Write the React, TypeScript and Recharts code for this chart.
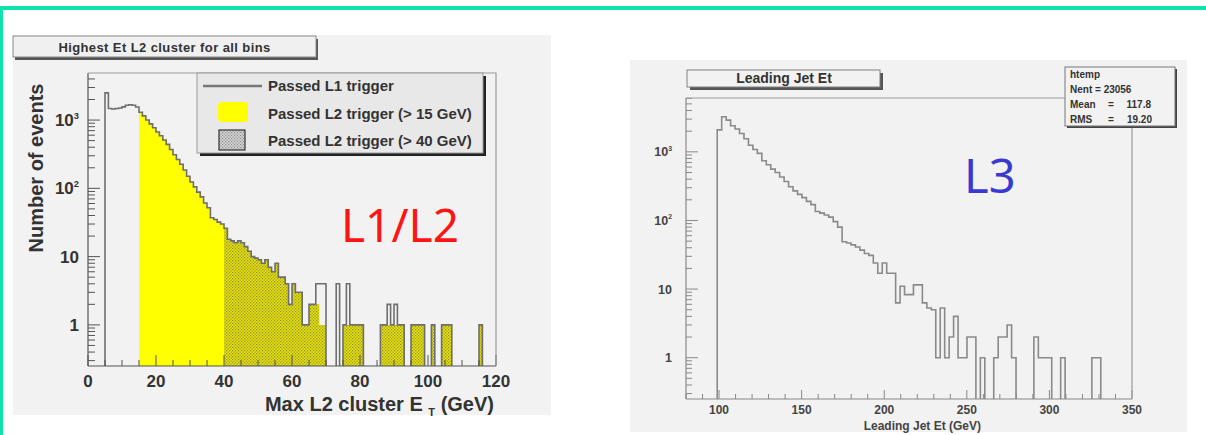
import React from 'react';
import { ComposedChart, Area, XAxis, YAxis } from 'recharts';

const FLOOR = 0.05;
const FONT = '"Liberation Sans", Arial, Helvetica, sans-serif';

// ---------- Left panel: Highest Et L2 cluster (1 GeV bins, 0-120 GeV)
const leftBinStart = 0;
const leftBinWidth = 1;
const leftL1Counts = [
  0, 0, 0, 0, 0, 2500, 1480, 1450, 1480, 1500,
  1560, 1650, 1680, 1650, 1550, 1300, 1150, 1000, 880, 770,
  670, 590, 510, 440, 370, 310, 265, 225, 186, 150,
  124, 105, 88, 75, 61, 52, 37, 35, 32, 30,
  26, 18, 17, 16, 17, 16, 14, 12, 10, 9.5,
  9, 8, 9, 7, 6, 8, 5, 5, 4, 2,
  4, 3, 3, 1, 1, 2, 2, 4, 4, 4,
  0, 0, 0, 4, 0, 1, 4, 1, 1, 1,
  1, 0, 0, 0, 0, 0, 1, 1, 2, 1,
  2, 1, 1, 0, 0, 1, 1, 1, 1, 0,
  0, 1, 0, 0, 1, 1, 1, 0, 0, 0,
  0, 0, 0, 0, 0, 1, 0, 0, 0, 0,
];
const leftL2StartBin = 15;
const leftL2Counts = [
  1300, 1150, 1000, 880, 770, 670, 590, 510, 440, 370,
  310, 265, 225, 186, 150, 124, 105, 88, 75, 61,
  52, 37, 35, 32, 30, 26, 18, 17, 16, 17,
  16, 14, 12, 10, 9.5, 9, 8, 9, 7, 6,
  8, 5, 5, 4, 2, 4, 3, 3, 1, 1,
  2, 2, 2, 1, 1, 0, 0, 0, 0, 0,
  1, 1, 1, 1, 1, 1, 0, 0, 0, 0,
  0, 1, 1, 1, 1, 1, 1, 1, 0, 0,
  1, 1, 1, 1, 0, 0, 1, 0, 0, 1,
  1, 1, 0, 0, 0, 0, 0, 0, 0, 0,
  1, 0, 0, 0, 0,
];
const leftHighStartBin = 40;
const leftHighCounts = [
  26, 18, 17, 16, 17, 16, 14, 12, 10, 9.5,
  9, 8, 9, 7, 6, 8, 5, 5, 4, 2,
  4, 3, 3, 1, 1, 2, 2, 2, 1, 1,
  0, 0, 0, 0, 0, 1, 1, 1, 1, 1,
  1, 0, 0, 0, 0, 0, 1, 1, 1, 1,
  1, 1, 1, 0, 0, 1, 1, 1, 1, 0,
  0, 1, 0, 0, 1, 1, 1, 0, 0, 0,
  0, 0, 0, 0, 0, 1, 0, 0, 0, 0,
];
const leftXTicks = [0, 5, 10, 15, 20, 25, 30, 35, 40, 45, 50, 55, 60, 65, 70, 75, 80, 85, 90, 95, 100, 105, 110, 115, 120];
const leftYTicks = [0.3, 0.4, 0.5, 0.6, 0.7, 0.8, 0.9, 1, 2, 3, 4, 5, 6, 7, 8, 9, 10, 20, 30, 40, 50, 60, 70, 80, 90, 100, 200, 300, 400, 500, 600, 700, 800, 900, 1000, 2000, 3000, 4000];
const leftLegendLabels = ['Passed L1 trigger', 'Passed L2 trigger (> 15 GeV)', 'Passed L2 trigger (> 40 GeV)'];

// ---------- Right panel: Leading Jet Et (2.7 GeV bins, 80-350 GeV)
const rightBinStart = 80;
const rightBinWidth = 2.7;
const rightCounts = [
  0, 0, 0, 0, 0, 0, 0,
  2090, 3240, 2900, 2400, 2150, 1850, 1550, 1250, 1080, 950,
  740, 650, 560, 500, 430, 370, 310, 270, 240, 215,
  190, 170, 135, 128, 120, 112, 96, 80, 49, 47,
  44, 41, 37, 33, 31, 24, 17, 24, 17, 17,
  6.3, 11, 8.3, 8.3, 11.5, 11.5, 6.3, 5.3, 5, 1,
  5.3, 1, 2, 4, 1, 1, 2, 2, 0, 1,
  0, 0, 1, 2, 2, 3, 1, 0, 0, 0,
  0, 2, 1, 1, 1, 0, 0, 1, 0, 0,
  0, 0, 0, 0, 1, 1, 0, 0, 0, 0,
  0, 0, 0,
];
const rightXTicks = [80, 90, 100, 110, 120, 130, 140, 150, 160, 170, 180, 190, 200, 210, 220, 230, 240, 250, 260, 270, 280, 290, 300, 310, 320, 330, 340, 350];
const rightYTicks = [0.3, 0.4, 0.5, 0.6, 0.7, 0.8, 0.9, 1, 2, 3, 4, 5, 6, 7, 8, 9, 10, 20, 30, 40, 50, 60, 70, 80, 90, 100, 200, 300, 400, 500, 600, 700, 800, 900, 1000, 2000, 3000, 4000, 5000, 6000];
const statsName = 'htemp';
const statsEntries = 23056;
const statsMean = '117.8';
const statsRms = '19.20';

// ---------- tables for the library
const pick = (arr: number[], startBin: number, bin: number) => {
  const j = bin - startBin;
  if (j < 0 || j >= arr.length) return FLOOR;
  return arr[j] > 0 ? arr[j] : FLOOR;
};

const leftRows = Array.from({ length: leftL1Counts.length + 1 }, (_, i) => {
  const b = Math.min(i, leftL1Counts.length - 1);
  return {
    x: leftBinStart + i * leftBinWidth,
    l1: pick(leftL1Counts, 0, b),
    l2: pick(leftL2Counts, leftL2StartBin, b),
    hi: pick(leftHighCounts, leftHighStartBin, b),
  };
});

const rightRows = Array.from({ length: rightCounts.length + 1 }, (_, i) => {
  const b = Math.min(i, rightCounts.length - 1);
  return { x: rightBinStart + i * rightBinWidth, v: pick(rightCounts, 0, b) };
});

// ---------- tick renderers
const isDecade = (v: number) => {
  const l = Math.log10(v);
  return Math.abs(l - Math.round(l)) < 1e-6;
};

const logLabel = (v: number, size: number) => {
  const e = Math.round(Math.log10(v));
  if (e === 0) return '1';
  if (e === 1) return '10';
  return [
    <tspan key="b">10</tspan>,
    <tspan key="e" dy={-size * 0.45} fontSize={size * 0.55}>{String(e)}</tspan>,
  ];
};

type TickCfg = { major: number; minor: number; size: number; gap: number; stroke: string; weight: string; color: string };

const makeYTick = (cfg: TickCfg) => (props: any) => {
  const { x, y, payload } = props;
  const v = payload.value as number;
  const dec = isDecade(v);
  return (
    <g>
      <line x1={x} y1={y} x2={x + (dec ? cfg.major : cfg.minor)} y2={y} stroke={cfg.stroke} strokeWidth={1} />
      {dec && (
        <text x={x - cfg.gap} y={y + cfg.size * 0.36} textAnchor="end" fontSize={cfg.size} fontWeight={cfg.weight} fill={cfg.color} fontFamily={FONT}>
          {logLabel(v, cfg.size)}
        </text>
      )}
    </g>
  );
};

const makeXTick = (cfg: TickCfg, majorEvery: number) => (props: any) => {
  const { x, y, payload } = props;
  const v = payload.value as number;
  const major = Math.abs(v % majorEvery) < 1e-6;
  return (
    <g>
      <line x1={x} y1={y} x2={x} y2={y - (major ? cfg.major : cfg.minor)} stroke={cfg.stroke} strokeWidth={1} />
      {major && (
        <text x={x} y={y + cfg.gap} textAnchor="middle" fontSize={cfg.size} fontWeight={cfg.weight} fill={cfg.color} fontFamily={FONT}>
          {String(v)}
        </text>
      )}
    </g>
  );
};

const leftTickCfg: TickCfg = { major: 12, minor: 7, size: 17, gap: 9, stroke: '#555', weight: 'bold', color: '#333' };
const leftXCfg: TickCfg = { major: 11, minor: 6, size: 17, gap: 21, stroke: '#555', weight: 'bold', color: '#333' };
const rightYCfg: TickCfg = { major: 12, minor: 6, size: 12.5, gap: 14, stroke: '#888', weight: 'bold', color: '#444' };
const rightXCfg: TickCfg = { major: 9, minor: 5, size: 12, gap: 15, stroke: '#888', weight: 'bold', color: '#444' };

const leftYTick = makeYTick(leftTickCfg);
const leftXTick = makeXTick(leftXCfg, 20);
const rightYTick = makeYTick(rightYCfg);
const rightXTick = makeXTick(rightXCfg, 50);

export default function App() {
  return (
    <div style={{ position: 'absolute', left: 0, top: 0, width: 1206, height: 435, background: '#ffffff', overflow: 'hidden' }}>
      {/* page frame */}
      <div style={{ position: 'absolute', left: 0, top: 6, width: 1206, height: 3.5, background: '#0ee3ad' }} />
      <div style={{ position: 'absolute', left: 0, top: 6, width: 2.5, height: 429, background: '#0ee3ad' }} />

      {/* panel backgrounds */}
      <div style={{ position: 'absolute', left: 13, top: 35, width: 538, height: 380, background: '#f2f2f2' }} />
      <div style={{ position: 'absolute', left: 630, top: 60, width: 557, height: 372, background: '#f2f2f2' }} />

      {/* left chart */}
      <div style={{ position: 'absolute', left: 13, top: 35 }}>
        <ComposedChart width={538} height={380} data={leftRows} margin={{ top: 38, right: 55, bottom: 0, left: 0 }}>
          <defs>
            <pattern id="hatchL2" width="3" height="3" patternUnits="userSpaceOnUse">
              <rect width="3" height="3" fill="#e9e400" />
              <rect x="0" y="0" width="1.2" height="1.2" fill="#8c8a3c" />
              <rect x="1.5" y="1.5" width="1.2" height="1.2" fill="#8c8a3c" />
            </pattern>
          </defs>
          <XAxis
            type="number"
            dataKey="x"
            domain={[0, 120]}
            ticks={leftXTicks}
            interval={0}
            tickSize={0}
            tickMargin={0}
            tickLine={false}
            tick={leftXTick}
            height={49}
            allowDataOverflow
            axisLine={{ stroke: '#555', strokeWidth: 1.2 }}
          />
          <YAxis
            type="number"
            scale="log"
            domain={[0.25, 4890]}
            ticks={leftYTicks}
            interval={0}
            tickSize={0}
            tickMargin={0}
            tickLine={false}
            tick={leftYTick}
            width={75}
            allowDataOverflow
            axisLine={{ stroke: '#555', strokeWidth: 1.2 }}
          />
          <Area type="stepAfter" dataKey="l2" stroke="none" fill="#ffff00" fillOpacity={1} isAnimationActive={false} />
          <Area type="stepAfter" dataKey="hi" stroke="none" fill="url(#hatchL2)" fillOpacity={1} isAnimationActive={false} />
          <Area type="stepAfter" dataKey="l1" stroke="#6e6e6e" strokeWidth={1.6} fill="none" isAnimationActive={false} />
        </ComposedChart>
      </div>

      {/* right chart */}
      <div style={{ position: 'absolute', left: 630, top: 60 }}>
        <ComposedChart width={557} height={367} data={rightRows} margin={{ top: 38, right: 55, bottom: 0, left: 0 }}>
          <XAxis
            type="number"
            dataKey="x"
            domain={[80, 350]}
            ticks={rightXTicks}
            interval={0}
            tickSize={0}
            tickMargin={0}
            tickLine={false}
            tick={rightXTick}
            height={28}
            allowDataOverflow
            axisLine={{ stroke: '#888', strokeWidth: 1.2 }}
          />
          <YAxis
            type="number"
            scale="log"
            domain={[0.25, 6090]}
            ticks={rightYTicks}
            interval={0}
            tickSize={0}
            tickMargin={0}
            tickLine={false}
            tick={rightYTick}
            width={56}
            allowDataOverflow
            axisLine={{ stroke: '#888', strokeWidth: 1.2 }}
          />
          <Area type="stepAfter" dataKey="v" stroke="#8a8a8a" strokeWidth={1.6} fill="none" isAnimationActive={false} />
        </ComposedChart>
      </div>

      {/* overlay: frames, titles, legend, stats, annotations */}
      <svg width={1206} height={435} style={{ position: 'absolute', left: 0, top: 0, pointerEvents: 'none' }}>
        <defs>
          <pattern id="hatchLegend" width="3" height="3" patternUnits="userSpaceOnUse">
            <rect width="3" height="3" fill="#d6d6d6" />
            <rect x="0" y="0" width="1.2" height="1.2" fill="#8a8a8a" />
            <rect x="1.5" y="1.5" width="1.2" height="1.2" fill="#8a8a8a" />
          </pattern>
        </defs>

        {/* plot frames (top/right) */}
        <polyline points="88,73 496,73 496,366" fill="none" stroke="#9a9a9a" strokeWidth={1.2} />
        <polyline points="686,98 1132,98 1132,399" fill="none" stroke="#9a9a9a" strokeWidth={1.2} />

        {/* left title */}
        <rect x={15} y={39} width={303} height={21} fill="#555" />
        <rect x={13} y={36} width={303} height={21} fill="#f0f0f0" stroke="#8a8a8a" strokeWidth={1} />
        <text x={164.5} y={52} textAnchor="middle" fontSize={13} fontWeight="bold" fill="#333" fontFamily={FONT} letterSpacing={0.4}>
          Highest Et L2 cluster for all bins
        </text>

        {/* left legend */}
        <rect x={200} y={76} width={286} height={80} fill="#222" />
        <rect x={197} y={73} width={286} height={80} fill="#e8e8e8" stroke="#9a9a9a" strokeWidth={1} />
        <line x1={203} y1={86} x2={262} y2={86} stroke="#777" strokeWidth={2.5} />
        <text x={268} y={91} fontSize={15} fontWeight="bold" fill="#333" fontFamily={FONT}>{leftLegendLabels[0]}</text>
        <rect x={218} y={102} width={30} height={20} rx={4} fill="#ffff00" />
        <text x={268} y={119} fontSize={15} fontWeight="bold" fill="#333" fontFamily={FONT}>{leftLegendLabels[1]}</text>
        <rect x={219} y={130} width={26} height={20} fill="url(#hatchLegend)" stroke="#333" strokeWidth={1.2} />
        <text x={268} y={146} fontSize={15} fontWeight="bold" fill="#333" fontFamily={FONT}>{leftLegendLabels[2]}</text>

        {/* left axis titles */}
        <text transform="translate(43,168) rotate(-90)" textAnchor="middle" fontSize={20} fontWeight="bold" fill="#333" fontFamily={FONT}>
          Number of events
        </text>
        <text x={494} y={411} textAnchor="end" fontSize={20} fontWeight="bold" fill="#333" fontFamily={FONT}>
          Max L2 cluster E <tspan dy={5} fontSize={11}>T</tspan><tspan dy={-5}> (GeV)</tspan>
        </text>

        <text x={341} y={242} fontSize={46} fill="#ff1414" fontFamily='"Noto Sans", sans-serif'>L1/L2</text>

        {/* right title */}
        <rect x={690} y={73} width={193} height={17} fill="#555" />
        <rect x={687} y={70} width={193} height={17} fill="#f2f2f2" stroke="#808080" strokeWidth={1} />
        <text x={784} y={83} textAnchor="middle" fontSize={14} fontWeight="bold" fill="#333" fontFamily={FONT}>
          Leading Jet Et
        </text>

        {/* stats box */}
        <rect x={1067} y={69} width={110} height={59} fill="#444" />
        <rect x={1065} y={67} width={110} height={59} fill="#f2f2f2" stroke="#777" strokeWidth={1} />
        <g fontSize={10} fontWeight="bold" fill="#333" fontFamily={FONT}>
          <text x={1070} y={78}>{statsName}</text>
          <text x={1070} y={93}>Nent = {String(statsEntries)}</text>
          <text x={1070} y={108}>Mean</text>
          <text x={1108} y={108}>=</text>
          <text x={1151} y={108} textAnchor="end">{statsMean}</text>
          <text x={1070} y={123}>RMS</text>
          <text x={1108} y={123}>=</text>
          <text x={1152} y={123} textAnchor="end">{statsRms}</text>
        </g>

        {/* right axis title */}
        <text x={981} y={430} textAnchor="end" fontSize={12} fontWeight="bold" fill="#444" fontFamily={FONT}>
          Leading Jet Et (GeV)
        </text>

        <text x={964} y={193} fontSize={47} fill="#3a3ad0" fontFamily='"Noto Sans", sans-serif'>L3</text>
      </svg>
    </div>
  );
}
